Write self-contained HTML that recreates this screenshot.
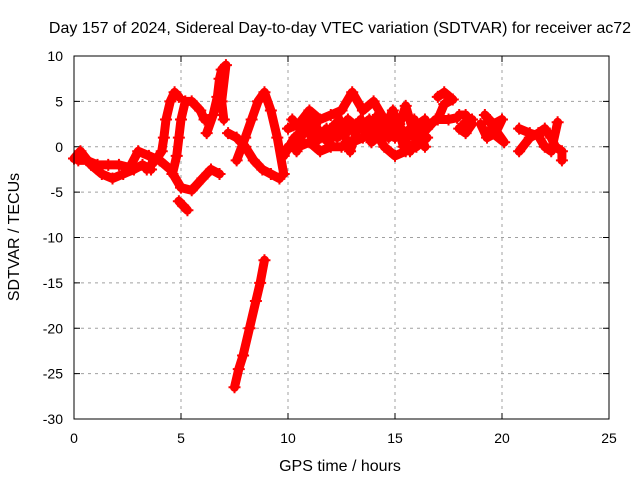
<!DOCTYPE html>
<html><head><meta charset="utf-8"><style>
body{margin:0;background:#fff;}
svg{display:block;font-family:"Liberation Sans",sans-serif;}
</style></head><body>
<svg id="chart" width="640" height="480">
<text x="340" y="33" font-size="16" text-anchor="middle">Day 157 of 2024, Sidereal Day-to-day VTEC variation (SDTVAR) for receiver ac72</text>
<text x="340" y="471" font-size="16" text-anchor="middle">GPS time / hours</text>
<text transform="translate(19,237) rotate(-90)" font-size="16" text-anchor="middle">SDTVAR / TECUs</text>
<g id="grid"></g><g id="ticks"></g><g id="marks"></g>
<rect x="74" y="56" width="535" height="363" fill="none" stroke="#000" stroke-width="1"/>
</svg>
<script>
const xTicks=[0,5,10,15,20,25];
const yTicks=[10,5,0,-5,-10,-15,-20,-25,-30];
const track1=[[0,-1.3],[0.3,-0.5],[0.8,-2],[1.3,-3],[1.8,-3.5],[2.3,-3],[2.8,-2.5],[3.2,-2],[3.6,-2.5]];
const track2=[[0.2,-1.5],[0.6,-1.5],[1.1,-2],[1.6,-2],[2.1,-2],[2.6,-2.3],[3,-0.5],[3.5,-1],[4,-1.5],[4.5,-2.5],[5,-4.5],[5.5,-4.8],[6,-3.5],[6.4,-2.5],[6.8,-3]];
const track3=[[3.4,-2.5],[3.8,-1.5],[4.1,-0.5],[4.2,1],[4.3,3],[4.5,5],[4.7,6],[4.9,5.5]];
const track4=[[4.6,-3],[4.8,-1],[4.9,1],[5,3],[5.2,5],[5.5,5],[5.9,4],[6.1,3]];
const track5=[[4.9,-6],[5.1,-6.5],[5.3,-7]];
const track6=[[6.2,1.5],[6.5,3.5],[6.7,5.5],[6.8,7.5],[6.9,8.5],[7.1,9],[6.9,5],[7,3]];
const track7=[[7.2,1.5],[7.6,1],[8,0],[8.4,-1.5],[8.8,-2.5],[9.2,-3],[9.6,-3.5]];
const track8=[[7.6,-1.5],[8,1],[8.3,3],[8.6,5],[8.9,6],[9.2,4],[9.5,1],[9.8,-3]];
const track9=[[7.5,-26.5],[7.7,-24.5],[7.9,-23],[8.2,-20],[8.5,-17],[8.7,-15],[8.9,-12.5]];
const track10=[[9.8,-1],[10.3,1],[10.8,2],[11.3,0.5],[11.8,2],[12.3,1],[12.8,3],[13.3,2],[13.8,3],[14.3,2],[14.8,3],[15.3,1.5],[15.8,2],[16.4,3]];
const track11=[[10,2],[10.5,2.5],[11,4],[11.5,3],[12,3.5],[12.5,4],[13,6],[13.5,4],[14,5],[14.5,3],[15,1],[15.5,4.5],[16,0.5],[16.5,2],[16.9,3]];
const track12=[[10,0],[10.5,0],[11,0.5],[11.5,-0.5],[12,0],[12.5,0],[13,0.5],[13.5,1],[14,2],[14.5,0],[15,-1],[15.5,-0.5],[16,0],[16.5,1]];
const track18=[[10.2,3],[10.7,1.5],[11.2,2.5],[11.7,1],[12.2,2.5],[12.7,1.5],[13.2,2.5],[13.7,1.5],[14.2,3.5],[14.7,1],[15.2,2.5],[15.7,-0.5],[16.2,1.5],[16.7,2.5]];
const track19=[[10.4,-0.5],[10.9,3],[11.4,1.5],[11.9,0.5],[12.4,3],[12.9,-0.5],[13.4,3],[13.9,0.5],[14.4,1.5],[14.9,4],[15.4,0],[15.9,3],[16.4,0]];
const track13=[[17,5.5],[17.3,6],[17.7,5.2],[17.3,4.7],[17,3],[17.5,3],[17.9,3.2]];
const track14=[[18,3.5],[18.3,3.5],[18.6,2.5],[18.3,1.5],[18,2],[18.6,3],[18.2,2.5]];
const track15=[[19,2.5],[19.3,1],[19.7,1.5],[20,3],[19.6,2.5],[19.2,3.5],[20.1,0.5],[19.4,1.8]];
const track16=[[20.8,-0.5],[21.3,1],[21.7,1.5],[22,2],[22.3,1],[22.5,0],[22.8,-0.5],[22.8,-1.5]];
const track17=[[20.8,2],[21.3,1.5],[21.7,1.2],[22,0],[22.3,-0.5],[22.6,2.7]];
const tracks=[track1,track2,track3,track4,track5,track6,track7,track8,track9,track10,track11,track12,track18,track19,track13,track14,track15,track16,track17];
const NS="http://www.w3.org/2000/svg";
const X=h=>74+h*535/25, Y=v=>56+(10-v)*363/40;
const grid=document.getElementById('grid'),ticks=document.getElementById('ticks'),marks=document.getElementById('marks');
function mk(t,a,p){const e=document.createElementNS(NS,t);for(const k in a)e.setAttribute(k,a[k]);p.appendChild(e);return e;}
xTicks.forEach(t=>{
  if(t>0&&t<25){const g=mk('line',{x1:X(t),x2:X(t),y1:56,y2:419,stroke:'#a0a0a0','stroke-dasharray':'3,4'},grid);
  
  }
  mk('line',{x1:X(t),x2:X(t),y1:419,y2:413,stroke:'#000'},ticks);
  mk('line',{x1:X(t),x2:X(t),y1:56,y2:62,stroke:'#000'},ticks);
  const l=mk('text',{x:X(t),y:443,'font-size':14,'text-anchor':'middle'},ticks);l.textContent=t;
  
  
});
yTicks.forEach(t=>{
  if(t<10&&t>-30){const g=mk('line',{x1:74,x2:609,y1:Y(t),y2:Y(t),stroke:'#a0a0a0','stroke-dasharray':'3,4'},grid);
  
  }
  mk('line',{x1:74,x2:80,y1:Y(t),y2:Y(t),stroke:'#000'},ticks);
  mk('line',{x1:603,x2:609,y1:Y(t),y2:Y(t),stroke:'#000'},ticks);
  const l=mk('text',{x:63,y:Y(t)+5,'font-size':14,'text-anchor':'end'},ticks);l.textContent=t;
  
  
});
tracks.forEach(tr=>{
  const pl=mk('polyline',{points:tr.map(p=>X(p[0])+','+Y(p[1])).join(' '),fill:'none',stroke:'#ff0000','stroke-width':9,'stroke-linejoin':'round','stroke-linecap':'round'},marks);
  
  
  tr.forEach(p=>{
    const m=mk('path',{d:`M${X(p[0])-6},${Y(p[1])}h12M${X(p[0])},${Y(p[1])-6}v12`,stroke:'#ff0000','stroke-width':2},marks);
    
    
  });
});
</script>
</body></html>
